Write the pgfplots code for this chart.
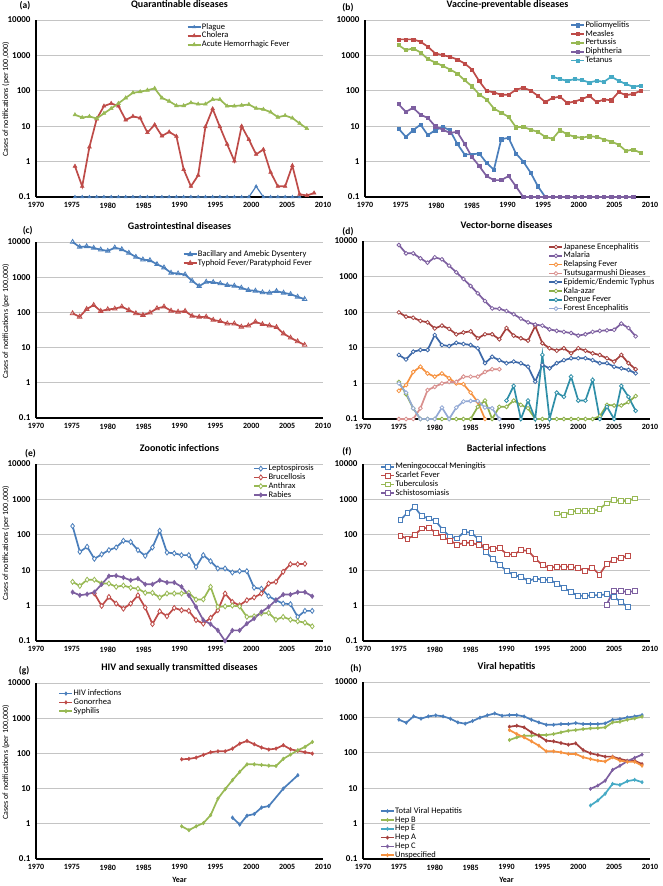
\documentclass[border=0pt]{standalone}
\usepackage{pgfplots}
\pgfplotsset{compat=1.18}
\usepackage{fontspec}
\setmainfont{Carlito}
\definecolor{cblue}{HTML}{4A7EBB}
\definecolor{cred}{HTML}{BE4B48}
\definecolor{cgreen}{HTML}{98B954}
\definecolor{cpurple}{HTML}{7D5FA0}
\definecolor{ccyan}{HTML}{46AAC5}
\definecolor{corange}{HTML}{F69240}
\definecolor{cdred}{HTML}{A5403D}
\definecolor{cdblue}{HTML}{3C68A8}
\definecolor{cteal}{HTML}{2F8FA8}
\definecolor{clblue}{HTML}{93A9D5}
\definecolor{cpink}{HTML}{D9908E}
\definecolor{ckala}{HTML}{8DB04A}
\definecolor{cgrid}{HTML}{C4C4C4}
\pgfplotsset{
 every axis/.append style={
   width=287pt,height=177pt,scale only axis,
   xmin=1970,xmax=2010,ymode=log,ymin=0.1,ymax=10000,
   xtick={1970,1975,1980,1985,1990,1995,2000,2005,2010},
   xticklabels={1970,1975,1980,1985,1990,1995,2000,2005,2010},
   ytick={0.1,1,10,100,1000,10000},
   yticklabels={0.1,1,10,100,1000,10000},
   yminorticks=false,
   axis x line*=bottom, axis y line*=left,
   axis line style={-,line width=1.8pt,black},
   ymajorgrids, major grid style={line width=0.9pt,color=cgrid},
   tick align=outside, major tick length=2pt, tick style={draw=none},
   clip=false,
   xticklabel style={font=\bfseries\fontsize{8}{9}\selectfont},
   yticklabel style={font=\bfseries\fontsize{9}{10}\selectfont},
   title style={font=\bfseries\fontsize{10}{12}\selectfont,at={(0.5,1)},anchor=center,yshift=9.5pt},
   legend style={draw=none,fill=none,anchor=north west,font=\fontsize{8.5}{9}\selectfont,
     row sep=0pt,inner sep=0pt,nodes={inner sep=0.4pt,text height=6pt,text depth=2pt}},
   legend cell align=left,
   legend image code/.code={\draw[mark repeat=2,mark phase=2] plot coordinates {(0pt,0pt)(6.5pt,0pt)(13pt,0pt)};},
   ylabel style={font=\fontsize{8}{9}\selectfont,at={(axis description cs:-0.105,0.55)},anchor=center},
   xlabel style={font=\bfseries\fontsize{8}{9}\selectfont,at={(axis description cs:0.5,-0.12)},anchor=center},
 },
 every axis plot/.append style={line width=1.7pt},
}
\tikzset{
 openmk/.style={mark options={fill=white,line width=0.8pt,solid}},
 fillmk/.style={mark options={line width=0.5pt,solid}},
}
\begin{document}
\begin{tikzpicture}
\path[use as bounding box] (0pt,0pt) rectangle (662pt,-886pt);

% (a)
\begin{axis}[ylabel={Cases of notifications (per 100,000)},at={(36pt,-197pt)},anchor=south west,title={Quarantinable diseases},
  legend style={at={(0.525,0.986)}},x filter/.expression={x+0.43+(x-1975)*0.01}]
\addplot[cblue,line width=1.2pt,mark=triangle*,mark size=1.8pt,fillmk] coordinates {(1975,0.1)(1976,0.1)(1977,0.1)(1978,0.1)(1979,0.1)(1980,0.1)(1981,0.1)(1982,0.1)(1983,0.1)(1984,0.1)(1985,0.1)(1986,0.1)(1987,0.1)(1988,0.1)(1989,0.1)(1990,0.1)(1991,0.1)(1992,0.1)(1993,0.1)(1994,0.1)(1995,0.1)(1996,0.1)(1997,0.1)(1998,0.1)(1999,0.1)(2000,0.2)(2001,0.1)(2002,0.1)(2003,0.1)(2004,0.1)(2005,0.1)(2006,0.1)};
\addlegendentry{Plague}
\addplot[cred,mark=triangle*,mark size=2.2pt,fillmk] coordinates {(1975,0.74)(1976,0.2)(1977,2.6)(1978,16)(1979,37)(1980,44)(1981,37)(1982,15)(1983,19)(1984,17)(1985,6.6)(1986,11)(1987,5.3)(1988,6.9)(1989,5.2)(1990,0.6)(1991,0.2)(1992,0.41)(1993,9.6)(1994,31)(1995,9.6)(1996,3.1)(1997,1.04)(1998,10)(1999,4.2)(2000,1.6)(2001,2.2)(2002,0.5)(2003,0.2)(2004,0.2)(2005,0.77)(2006,0.12)(2007,0.11)(2008,0.13)};
\addlegendentry{Cholera}
\addplot[cgreen,mark=triangle*,mark size=2.2pt,fillmk] coordinates {(1975,21)(1976,17.6)(1977,18.9)(1978,16.5)(1979,23)(1980,31.6)(1981,44)(1982,63)(1983,88)(1984,94)(1985,104)(1986,117)(1987,63)(1988,51)(1989,38)(1990,38)(1991,46)(1992,42)(1993,42)(1994,57)(1995,57)(1996,37)(1997,37)(1998,39)(1999,41)(2000,32)(2001,30)(2002,25)(2003,18)(2004,20)(2005,17)(2006,12)(2007,8.6)};
\addlegendentry{Acute Hemorrhagic Fever}
\end{axis}

% (b)
\begin{axis}[at={(365pt,-197pt)},anchor=south west,width=285pt,title={Vaccine-preventable diseases},
  legend style={at={(0.72,0.996)}},x filter/.expression={x-0.3+(x-1975)*0.03}]
\addplot[cblue,mark=square*,mark size=1.6pt,fillmk] coordinates {(1975,8.6)(1976,5.0)(1977,7.7)(1978,11.1)(1979,5.6)(1980,7.7)(1981,9.6)(1982,7.7)(1983,3.2)(1984,1.6)(1985,1.6)(1986,1.7)(1987,0.92)(1988,0.59)(1989,4.3)(1990,4.7)(1991,1.7)(1992,1.0)(1993,0.49)(1994,0.2)(1995,0.1)};
\addlegendentry{Poliomyelitis}
\addplot[cred,mark=square*,mark size=1.6pt,fillmk] coordinates {(1975,2840)(1976,2840)(1977,2840)(1978,2440)(1979,1760)(1980,1140)(1981,1020)(1982,916)(1983,771)(1984,594)(1985,402)(1986,188)(1987,100)(1988,90)(1989,77)(1990,77)(1991,107)(1992,122)(1993,102)(1994,72)(1995,48)(1996,63)(1997,68)(1998,45)(1999,50)(2000,58)(2001,72)(2002,48)(2003,57)(2004,54)(2005,92)(2006,75)(2007,82)(2008,100)};
\addlegendentry{Measles}
\addplot[cgreen,mark=square*,mark size=1.6pt,fillmk] coordinates {(1975,1960)(1976,1413)(1977,1578)(1978,1216)(1979,788)(1980,633)(1981,510)(1982,402)(1983,309)(1984,200)(1985,135)(1986,79)(1987,57)(1988,31.6)(1989,24)(1990,18.4)(1991,9.4)(1992,9.6)(1993,8.0)(1994,6.9)(1995,5.0)(1996,4.4)(1997,7.7)(1998,5.9)(1999,5.0)(2000,4.7)(2001,5.2)(2002,5.0)(2003,4.2)(2004,3.7)(2005,3.0)(2006,2.0)(2007,2.2)(2008,1.76)};
\addlegendentry{Pertussis}
\addplot[cpurple,mark=square*,mark size=1.6pt,fillmk] coordinates {(1975,42)(1976,25.5)(1977,33)(1978,21)(1979,17.2)(1980,10)(1981,8)(1982,6.5)(1983,6.9)(1984,3.2)(1985,1.36)(1986,0.75)(1987,0.39)(1988,0.3)(1989,0.3)(1990,0.39)(1991,0.2)(1992,0.1)(1993,0.1)(1994,0.1)(1995,0.1)(1996,0.1)(1997,0.1)(1998,0.1)(1999,0.1)(2000,0.1)(2001,0.1)(2002,0.1)(2003,0.1)(2004,0.1)(2005,0.1)(2006,0.1)(2007,0.1)};
\addlegendentry{Diphtheria}
\addplot[ccyan,mark=square*,mark size=1.6pt,fillmk] coordinates {(1996,250)(1997,214)(1998,192)(1999,214)(2000,200)(2001,172)(2002,192)(2003,180)(2004,249)(2005,192)(2006,155)(2007,130)(2008,140)};
\addlegendentry{Tetanus}
\end{axis}

% (c)
\begin{axis}[ylabel={Cases of notifications (per 100,000)},at={(36pt,-418pt)},anchor=south west,height=176pt,title={Gastrointestinal diseases},
  legend style={at={(0.511,0.956)}},x filter/.expression={x+0.1-(x-1975)*0.02}]
\addplot[cblue,mark=triangle,mark size=2.6pt,openmk] coordinates {(1975,10000)(1976,7210)(1977,7540)(1978,6760)(1979,6070)(1980,5560)(1981,6910)(1982,6190)(1983,4890)(1984,3760)(1985,3160)(1986,3020)(1987,2330)(1988,1880)(1989,1327)(1990,1271)(1991,1190)(1992,787)(1993,556)(1994,738)(1995,721)(1996,661)(1997,594)(1998,569)(1999,499)(2000,428)(2001,410)(2002,368)(2003,360)(2004,402)(2005,360)(2006,330)(2007,277)(2008,238)};
\addlegendentry{Bacillary and Amebic Dysentery}
\addplot[cred,mark=triangle,mark size=2.6pt,openmk] coordinates {(1975,94)(1976,75)(1977,124)(1978,161)(1979,109)(1980,122)(1981,127)(1982,145)(1983,116)(1984,94)(1985,84)(1986,98)(1987,130)(1988,145)(1989,111)(1990,104)(1991,109)(1992,79)(1993,74)(1994,75)(1995,61)(1996,56)(1997,48)(1998,48)(1999,39)(2000,42)(2001,54)(2002,46)(2003,42)(2004,38)(2005,25)(2006,19)(2007,15)(2008,11.9)};
\addlegendentry{Typhoid Fever/Paratyphoid Fever}
\end{axis}

% (d)
\begin{axis}[at={(363pt,-419pt)},anchor=south west,height=178pt,title={Vector-borne diseases},
  legend style={at={(0.646,0.992)}}]
\addplot[cdred,mark=*,mark size=1.9pt,openmk] coordinates {(1975,99)(1976,75)(1977,70)(1978,57)(1979,52)(1980,35)(1981,42)(1982,34)(1983,24)(1984,27)(1985,29)(1986,18.5)(1987,24)(1988,24)(1989,17.3)(1990,36)(1991,22)(1992,18.5)(1993,15.9)(1994,41)(1995,13.4)(1996,9.7)(1997,8.3)(1998,9.7)(1999,7.0)(2000,9.7)(2001,8.3)(2002,7.0)(2003,6.3)(2004,5.1)(2005,4.1)(2006,6.3)(2007,3.7)(2008,2.5)};
\addlegendentry{Japanese Encephalitis}
\addplot[cpurple,mark=*,mark size=1.9pt,openmk] coordinates {(1975,7720)(1976,4500)(1977,4500)(1978,3260)(1979,2460)(1980,3480)(1981,3060)(1982,2030)(1983,1320)(1984,857)(1985,545)(1986,339)(1987,206)(1988,128)(1989,125)(1990,108)(1991,88)(1992,66)(1993,52)(1994,45)(1995,42)(1996,33)(1997,30)(1998,28)(1999,26)(2000,22)(2001,24)(2002,28)(2003,30)(2004,31)(2005,32)(2006,48)(2007,36)(2008,21)};
\addlegendentry{Malaria}
\addplot[corange,mark=*,mark size=1.9pt,openmk] coordinates {(1975,0.62)(1976,0.9)(1977,2.1)(1978,2.95)(1979,1.9)(1980,1.55)(1981,1.9)(1982,1.4)(1983,1.0)(1984,0.95)(1985,0.55)(1986,0.3)(1987,0.1)};
\addlegendentry{Relapsing Fever}
\addplot[cpink,mark=*,mark size=1.9pt,openmk] coordinates {(1975,0.1)(1976,0.1)(1977,0.1)(1978,0.2)(1979,0.65)(1980,0.8)(1981,1.0)(1982,1.1)(1983,1.1)(1984,1.55)(1985,1.55)(1986,1.55)(1987,2.1)(1988,2.5)(1989,2.5)};
\addlegendentry{Tsutsugarmushi Dieases}
\addplot[cdblue,mark=*,mark size=1.9pt,openmk] coordinates {(1975,6.3)(1976,4.7)(1977,7.8)(1978,8.7)(1979,8.7)(1980,22.9)(1981,12)(1982,11.2)(1983,13.8)(1984,12.8)(1985,12)(1986,9.7)(1987,3.7)(1988,5.6)(1989,4.5)(1990,3.7)(1991,4.1)(1992,3.7)(1993,2.95)(1994,1.12)(1995,3.3)(1996,2.65)(1997,3.7)(1998,4.5)(1999,5.1)(2000,5.1)(2001,5.1)(2002,4.5)(2003,3.7)(2004,3.7)(2005,2.95)(2006,2.65)(2007,2.4)(2008,1.92)};
\addlegendentry{Epidemic/Endemic Typhus}
\addplot[ckala,mark=*,mark size=1.9pt,openmk] coordinates {(1975,1.1)(1976,0.5)(1977,0.2)(1978,0.1)(1979,0.1)(1980,0.1)(1981,0.1)(1982,0.1)(1983,0.1)(1984,0.1)(1985,0.1)(1986,0.22)(1987,0.33)(1988,0.1)(1989,0.22)(1990,0.22)(1991,0.33)(1992,0.25)(1993,0.2)(1994,0.1)(1995,0.1)(1996,0.1)(1997,0.1)(1998,0.1)(1999,0.1)(2000,0.1)(2001,0.1)(2002,0.1)(2003,0.12)(2004,0.25)(2005,0.24)(2006,0.24)(2007,0.3)(2008,0.44)};
\addlegendentry{Kala-azar}
\addplot[cteal,mark=*,mark size=1.9pt,openmk] coordinates {(1990,0.33)(1991,0.85)(1992,0.1)(1993,0.33)(1994,0.1)(1995,6.3)(1996,0.1)(1997,0.55)(1998,0.42)(1999,1.55)(2000,0.33)(2001,0.33)(2002,1.25)(2003,0.1)(2004,0.22)(2005,0.1)(2006,0.85)(2007,0.42)(2008,0.17)};
\addlegendentry{Dengue Fever}
\addplot[clblue,mark=*,mark size=1.9pt,openmk] coordinates {(1975,1.0)(1976,0.55)(1977,0.2)(1978,0.1)(1979,0.1)(1980,0.1)(1981,0.21)(1982,0.1)(1983,0.21)(1984,0.31)(1985,0.32)(1986,0.32)(1987,0.21)(1988,0.2)(1989,0.1)};
\addlegendentry{Forest Encephalitis}
\end{axis}

% (e)
\begin{axis}[ylabel={Cases of notifications (per 100,000)},at={(36pt,-641pt)},anchor=south west,title={Zoonotic infections},
  legend style={at={(0.757,1.0)}},x filter/.expression={x+0.1+(x-1975)*0.012}]
\addplot[cblue,mark=diamond*,mark size=2.5pt,openmk] coordinates {(1975,176)(1976,33)(1977,46)(1978,21)(1979,28)(1980,37)(1981,44)(1982,68)(1983,63)(1984,37)(1985,25.5)(1986,44)(1987,130)(1988,31.6)(1989,30)(1990,26.7)(1991,26.7)(1992,12.4)(1993,26.7)(1994,18)(1995,11.2)(1996,11.2)(1997,8.6)(1998,9.4)(1999,9.4)(2000,3.2)(2001,3.0)(2002,1.84)(2003,1.42)(2004,1.14)(2005,1.1)(2006,0.48)(2007,0.71)(2008,0.71)};
\addlegendentry{Leptospirosis}
\addplot[cred,mark=diamond*,mark size=2.5pt,openmk] coordinates {(1978,2.2)(1979,0.98)(1980,1.76)(1981,1.14)(1982,0.82)(1983,1.14)(1984,1.96)(1985,0.88)(1986,0.3)(1987,0.69)(1988,0.5)(1989,0.86)(1990,0.74)(1991,0.71)(1992,0.39)(1993,0.31)(1994,0.45)(1995,0.74)(1996,2.2)(1997,1.27)(1998,1.02)(1999,1.42)(2000,1.7)(2001,2.2)(2002,4.2)(2003,4.7)(2004,9.0)(2005,14.8)(2006,14.8)(2007,15.2)};
\addlegendentry{Brucellosis}
\addplot[cgreen,mark=diamond*,mark size=2.5pt,openmk] coordinates {(1975,4.7)(1976,3.6)(1977,5.4)(1978,5.4)(1979,4.2)(1980,4.2)(1981,3.4)(1982,3.7)(1983,3.2)(1984,3.0)(1985,2.3)(1986,2.3)(1987,1.7)(1988,2.2)(1989,2.2)(1990,2.2)(1991,2.3)(1992,1.48)(1993,1.5)(1994,3.4)(1995,0.92)(1996,0.95)(1997,1.0)(1998,0.95)(1999,0.48)(2000,0.5)(2001,0.6)(2002,0.62)(2003,0.4)(2004,0.48)(2005,0.4)(2006,0.36)(2007,0.33)(2008,0.26)};
\addlegendentry{Anthrax}
\addplot[cpurple,mark=diamond*,mark size=2.3pt,fillmk] coordinates {(1975,2.4)(1976,1.96)(1977,2.1)(1978,2.4)(1979,4.0)(1980,6.8)(1981,7.0)(1982,6.2)(1983,5.2)(1984,5.8)(1985,4.0)(1986,4.0)(1987,5.2)(1988,4.5)(1989,4.5)(1990,3.4)(1991,1.96)(1992,0.92)(1993,0.39)(1994,0.3)(1995,0.2)(1996,0.1)(1997,0.2)(1998,0.2)(1999,0.31)(2000,0.43)(2001,0.66)(2002,0.92)(2003,1.42)(2004,2.05)(2005,2.05)(2006,2.4)(2007,2.4)(2008,1.84)};
\addlegendentry{Rabies}
\end{axis}

% (f)
\begin{axis}[at={(363pt,-641pt)},anchor=south west,title={Bacterial infections},
  legend style={at={(0.06,1.01)}},x filter/.expression={x+0.2-(x-1975)*0.009}]
\addplot[cblue,mark=square*,mark size=2.4pt,openmk] coordinates {(1975,260)(1976,420)(1977,617)(1978,337)(1979,290)(1980,244)(1981,136)(1982,88)(1983,79)(1984,122)(1985,114)(1986,75)(1987,33)(1988,21)(1989,13.9)(1990,9.4)(1991,7.2)(1992,6.5)(1993,5.0)(1994,5.8)(1995,5.4)(1996,5.4)(1997,4.2)(1998,3.2)(1999,2.4)(2000,1.9)(2001,1.88)(2002,1.96)(2003,1.96)(2004,2.1)(2005,1.8)(2006,1.27)(2007,0.92)};
\addlegendentry{Meningococcal Meningitis}
\addplot[cred,mark=square*,mark size=2.4pt,openmk] coordinates {(1975,94)(1976,77)(1977,98)(1978,151)(1979,158)(1980,114)(1981,88)(1982,68)(1983,53)(1984,59)(1985,60)(1986,51)(1987,46)(1988,41)(1989,42)(1990,28)(1991,28)(1992,37)(1993,35)(1994,21)(1995,13.9)(1996,11.6)(1997,12.7)(1998,12.7)(1999,12.4)(2000,11.4)(2001,9.8)(2002,11.9)(2003,7.5)(2004,14.8)(2005,20)(2006,22)(2007,26)};
\addlegendentry{Scarlet Fever}
\addplot[cgreen,mark=square*,mark size=2.4pt,openmk] coordinates {(1997,402)(1998,360)(1999,448)(2000,478)(2001,478)(2002,470)(2003,532)(2004,771)(2005,955)(2006,897)(2007,913)(2008,1070)};
\addlegendentry{Tuberculosis}
\addplot[cpurple,mark=square*,mark size=2.4pt,openmk] coordinates {(2004,1.07)(2005,2.6)(2006,2.6)(2007,2.4)(2008,2.6)};
\addlegendentry{Schistosomiasis}
\end{axis}

% (g)
\begin{axis}[ylabel={Cases of notifications (per 100,000)},xlabel={Year},at={(36pt,-859pt)},anchor=south west,height=176pt,title={HIV and sexually transmitted diseases},
  legend style={at={(0.078,0.966)}},x filter/.expression={x+0.3+(x-1990)*0.012}]
\addplot[cblue,mark=diamond*,mark size=1.8pt,fillmk] coordinates {(1997,1.5)(1998,0.95)(1999,1.7)(2000,1.9)(2001,2.9)(2002,3.2)(2004,10)(2006,24)};
\addlegendentry{HIV infections}
\addplot[cred,mark=diamond*,mark size=1.8pt,fillmk] coordinates {(1990,68)(1991,70)(1992,76)(1993,91)(1994,108)(1995,115)(1996,115)(1997,137)(1998,190)(1999,226)(2000,182)(2001,147)(2002,129)(2003,137)(2004,171)(2005,131)(2006,118)(2007,108)(2008,99)};
\addlegendentry{Gonorrhea}
\addplot[cgreen,mark=diamond*,mark size=1.8pt,fillmk] coordinates {(1990,0.85)(1991,0.66)(1992,0.85)(1993,1.05)(1994,1.77)(1995,5.2)(1996,9.7)(1997,17.4)(1998,30)(1999,49)(2000,49)(2001,47)(2002,45)(2003,44)(2004,70)(2005,93)(2006,123)(2007,153)(2008,212)};
\addlegendentry{Syphilis}
\end{axis}

% (h)
\begin{axis}[xlabel={Year},at={(363pt,-859pt)},anchor=south west,title={Viral hepatitis},
  legend style={at={(0.059,0.296)}},x filter/.expression={x+(x-1975)*0.027}]
\addplot[cblue,mark=diamond*,mark size=1.7pt,fillmk] coordinates {(1975,863)(1976,708)(1977,1071)(1978,920)(1979,1071)(1980,1143)(1981,1071)(1982,920)(1983,724)(1984,665)(1985,791)(1986,982)(1987,1143)(1988,1297)(1989,1114)(1990,1163)(1991,1163)(1992,1067)(1993,860)(1994,723)(1995,621)(1996,621)(1997,649)(1998,649)(1999,692)(2000,649)(2001,649)(2002,649)(2003,678)(2004,860)(2005,898)(2006,1000)(2007,1067)(2008,1163)};
\addlegendentry{Total Viral Hepatitis}
\addplot[cgreen,mark=diamond*,mark size=1.7pt,fillmk] coordinates {(1990,230)(1991,273)(1992,304)(1993,304)(1994,318)(1995,318)(1996,339)(1997,378)(1998,421)(1999,440)(2000,469)(2001,490)(2002,501)(2003,523)(2004,723)(2005,755)(2006,860)(2007,937)(2008,1044)};
\addlegendentry{Hep B}
\addplot[ccyan,mark=diamond*,mark size=1.7pt,fillmk] coordinates {(2001,3.25)(2002,4.5)(2003,7.0)(2004,13.3)(2005,12.4)(2006,15.8)(2007,17.3)(2008,14.8)};
\addlegendentry{Hep E}
\addplot[cdred,mark=diamond*,mark size=1.7pt,fillmk] coordinates {(1990,546)(1991,582)(1992,523)(1993,378)(1994,304)(1995,220)(1996,211)(1997,189)(1998,170)(1999,185)(2000,120)(2001,97)(2002,87)(2003,78)(2004,78)(2005,67)(2006,60)(2007,60)(2008,48)};
\addlegendentry{Hep A}
\addplot[cpurple,mark=diamond*,mark size=1.7pt,fillmk] coordinates {(2001,9.6)(2002,11.9)(2003,16.3)(2004,33)(2005,43)(2006,58)(2007,72)(2008,89)};
\addlegendentry{Hep C}
\addplot[corange,mark=diamond*,mark size=1.7pt,fillmk] coordinates {(1990,440)(1991,339)(1992,273)(1993,211)(1994,159)(1995,110)(1996,110)(1997,103)(1998,93)(1999,93)(2000,75)(2001,67)(2002,60)(2003,57)(2004,75)(2005,60)(2006,56)(2007,56)(2008,43)};
\addlegendentry{Unspecified}
\end{axis}

\begin{scope}[every node/.style={font=\bfseries\fontsize{9.5}{11}\selectfont}]
\node at (25pt,-6pt) {(a)};
\node at (348pt,-7.5pt) {(b)};
\node at (27.7pt,-230.5pt) {(c)};
\node at (348pt,-232pt) {(d)};
\node at (30.5pt,-454pt) {(e)};
\node at (347pt,-452pt) {(f)};
\node at (24pt,-671pt) {(g)};
\node at (356pt,-669pt) {(h)};
\end{scope}
\end{tikzpicture}
\end{document}
